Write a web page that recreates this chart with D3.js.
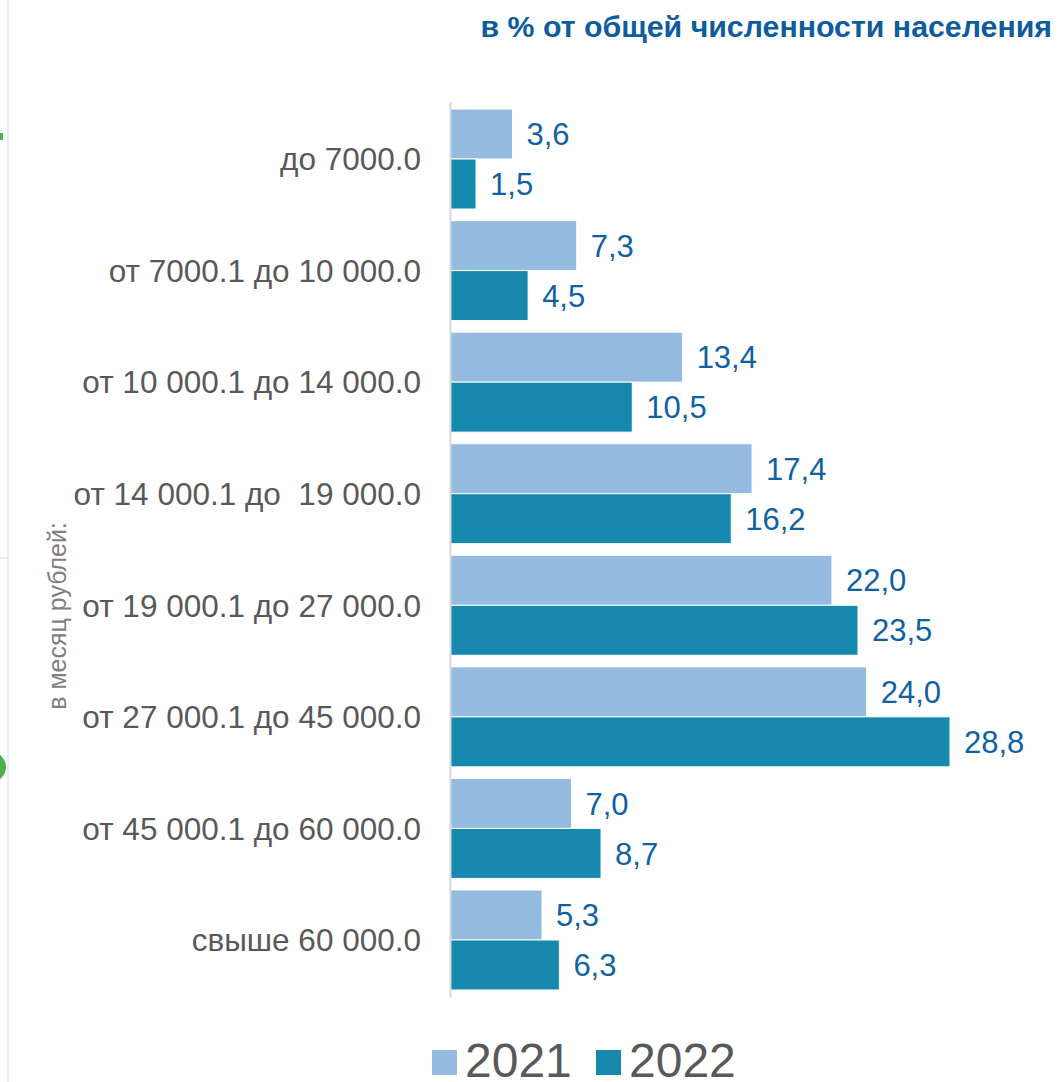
<!DOCTYPE html>
<html>
<head>
<meta charset="utf-8">
<script src="https://cdn.jsdelivr.net/npm/d3@7"></script>
<style>
  html, body { margin: 0; padding: 0; background: #ffffff; }
  svg { display: block; }
  text { font-family: "Liberation Sans", Arial, sans-serif; white-space: pre; }
</style>
</head>
<body>
<svg id="chart" width="1058" height="1082"></svg>
<script>
const categories = [
  "до 7000.0",
  "от 7000.1 до 10 000.0",
  "от 10 000.1 до 14 000.0",
  "от 14 000.1 до  19 000.0",
  "от 19 000.1 до 27 000.0",
  "от 27 000.1 до 45 000.0",
  "от 45 000.1 до 60 000.0",
  "свыше 60 000.0"
];
const years = ["2021", "2022"];
const values2021 = [3.6, 7.3, 13.4, 17.4, 22.0, 24.0, 7.0, 5.3];
const values2022 = [1.5, 4.5, 10.5, 16.2, 23.5, 28.8, 8.7, 6.3];
const titleText = "в % от общей численности населения";
const axisTitle = "в месяц рублей:";

const colors = { "2021": "#95bbe0", "2022": "#1889ae" };
const labelColor = "#1061a3";

const data = categories.map((c, i) => ({ cat: c, vals: [
  { year: "2021", v: values2021[i] },
  { year: "2022", v: values2022[i] }
]}));

const svg = d3.select("#chart");

// page decorations
svg.append("line").attr("x1", 8).attr("x2", 8).attr("y1", 0).attr("y2", 1082)
  .attr("stroke", "#dbe8f5").attr("stroke-width", 1.5);
svg.append("line").attr("x1", 0).attr("x2", 8).attr("y1", 558).attr("y2", 558)
  .attr("stroke", "#dbe8f5").attr("stroke-width", 1.5);
svg.append("rect").attr("x", 0).attr("y", 133).attr("width", 3).attr("height", 7).attr("fill", "#4caf50");
svg.append("circle").attr("cx", -9).attr("cy", 767).attr("r", 15).attr("fill", "#4caf50");

const x = d3.scaleLinear()
  .domain([0, d3.max(values2022.concat(values2021))])
  .range([450, 950]);

const y = d3.scaleBand()
  .domain(categories)
  .range([102, 997])
  .paddingInner(0.104)
  .paddingOuter(0.063);

const yInner = d3.scaleBand()
  .domain(years)
  .range([0, y.bandwidth()]);

// title
svg.append("text")
  .attr("x", 1052).attr("y", 37)
  .attr("text-anchor", "end")
  .attr("font-size", 30.3)
  .attr("font-weight", "bold")
  .attr("fill", "#0e5c9e")
  .text(titleText);

// vertical axis title
svg.append("text")
  .attr("transform", "translate(66,616) rotate(-90)")
  .attr("text-anchor", "middle")
  .attr("font-size", 25)
  .attr("fill", "#7f7f7f")
  .text(axisTitle);

// groups
const g = svg.append("g");
const groups = g.selectAll("g.grp").data(data).join("g")
  .attr("class", "grp")
  .attr("transform", d => `translate(0,${y(d.cat)})`);

groups.selectAll("rect").data(d => d.vals).join("rect")
  .attr("x", x(0))
  .attr("y", d => yInner(d.year))
  .attr("width", d => x(d.v) - x(0))
  .attr("height", yInner.bandwidth())
  .attr("fill", d => colors[d.year])
  .attr("stroke", "#ffffff")
  .attr("stroke-width", 1);

groups.selectAll("text.val").data(d => d.vals).join("text")
  .attr("class", "val")
  .attr("x", d => x(d.v) + 14)
  .attr("y", d => yInner(d.year) + yInner.bandwidth() / 2)
  .attr("dy", "0.36em")
  .attr("font-size", 31)
  .attr("fill", labelColor)
  .text(d => d3.format(".1f")(d.v).replace(".", ","));

// category axis
const yAxis = d3.axisLeft(y).tickSize(0).tickPadding(29);
const axG = svg.append("g").attr("transform", `translate(${x(0)},0)`).call(yAxis);
axG.select(".domain").attr("stroke", "#d9d9d9").attr("stroke-width", 2);
axG.selectAll(".tick text")
  .attr("font-size", 31.5)
  .attr("fill", "#595959")
  .attr("font-family", "Liberation Sans, Arial, sans-serif")
  .style("white-space", "pre")
  .attr("dy", "0.36em");

// legend
const legend = svg.append("g");
const legX = [432, 596];
years.forEach((yr, i) => {
  legend.append("rect")
    .attr("x", legX[i]).attr("y", 1050)
    .attr("width", 25).attr("height", 25)
    .attr("fill", colors[yr]);
  legend.append("text")
    .attr("x", legX[i] + 33).attr("y", 1077)
    .attr("font-size", 48)
    .attr("fill", "#595959")
    .text(yr);
});
</script>
</body>
</html>
